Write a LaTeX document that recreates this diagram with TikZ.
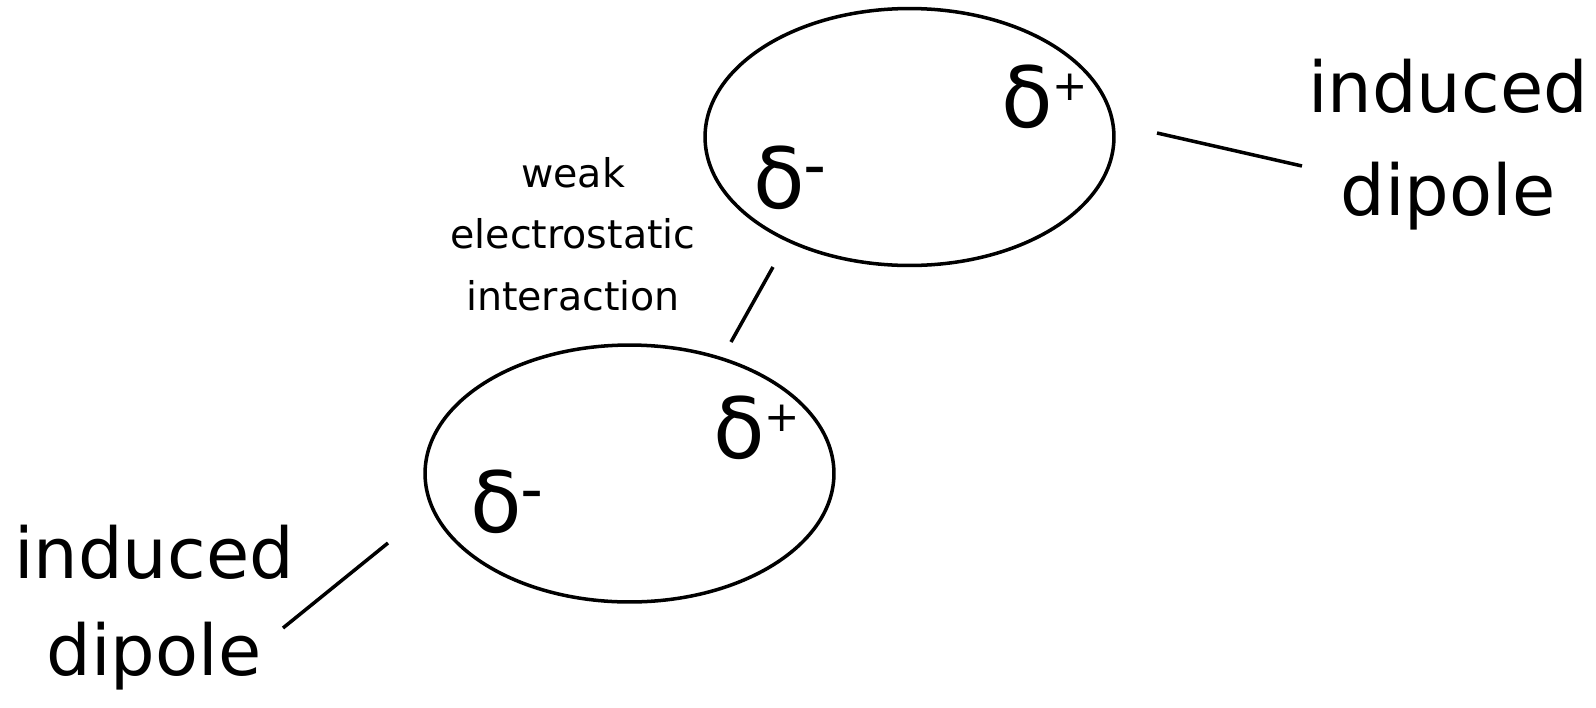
\documentclass[tikz,border=0pt]{standalone}
\usepackage{fontspec}
\setsansfont{DejaVu Sans}
\usetikzlibrary{shapes.geometric}
\definecolor{ink}{HTML}{000000}
\newcommand{\charge}[1]{δ\raisebox{15pt}{\fontsize{24}{24}\selectfont #1}}
\tikzset{
  every node/.style={font=\sffamily, text=ink, inner sep=0pt},
  molecule/.style={draw=ink, ellipse, line width=2pt, minimum width=8.18cm, minimum height=5.14cm},
  biglabel/.style={font=\sffamily\fontsize{40}{48}\selectfont, anchor=base},
  smalllabel/.style={font=\sffamily\fontsize{22.5}{27}\selectfont, anchor=base},
  charge/.style={font=\sffamily\fontsize{48}{56}\selectfont, anchor=base west},
  link/.style={line width=2pt, draw=ink},
}

\begin{document}
\begin{tikzpicture}[x=0.02cm, y=-0.02cm]
\useasboundingbox (0,0) rectangle (1596,707);
% molecules
\node[molecule] (top) at (909.5,137) {};
\node[molecule] (bot) at (629.5,473.5) {};
\node[charge] (topplus) at (1001,127) {\charge{+}};
\node[charge] (topminus) at (753,208) {\charge{\textbf{–}}};
\node[charge] (botplus) at (713,458) {\charge{+}};
\node[charge] (botminus) at (470,532) {\charge{\textbf{–}}};
% labels
\node[biglabel] (ind1) at (1448,112) {induced};
\node[biglabel] (dip1) at (1448,215) {dipole};
\node[biglabel] (ind2) at (154,578) {induced};
\node[biglabel] (dip2) at (154,675) {dipole};
\node[smalllabel] (weak) at (573,187) {weak};
\node[smalllabel] (elec) at (573,248) {electrostatic};
\node[smalllabel] (inter) at (573,310) {interaction};
% leader lines
\coordinate (a1) at (1157,133); \coordinate (a2) at (1302,166);
\coordinate (b1) at (773,267); \coordinate (b2) at (731,342);
\coordinate (c1) at (388,543); \coordinate (c2) at (283,628);
\draw[link](a1)--(a2);\draw[link](b1)--(b2);\draw[link](c1)--(c2);
\end{tikzpicture}
\end{document}
